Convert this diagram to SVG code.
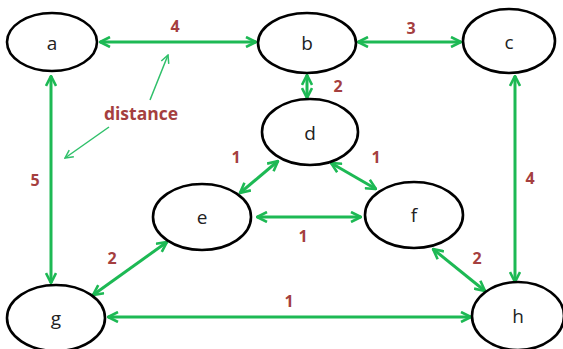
<svg xmlns="http://www.w3.org/2000/svg" width="563" height="349" viewBox="0 0 563 349">
  <style>
    .node ellipse { fill: #ffffff; stroke: #000000; stroke-width: 2.6; }
    .node text { font-family: "Open Sans", "Liberation Sans", sans-serif; font-size: 19px; fill: #222222; text-anchor: middle; dominant-baseline: central; }
    .edge { stroke: #1db954; stroke-width: 3; fill: none; marker-start: url(#tipStart); marker-end: url(#tipEnd); }
    .note { stroke: #2fc06a; stroke-width: 1.5; fill: none; marker-end: url(#tipThin); }
    .w { font-family: "Open Sans", "Liberation Sans", sans-serif; font-size: 16px; font-weight: bold; fill: #a53f3f; text-anchor: middle; }
  </style>
  <defs>
    <marker id="tipEnd" viewBox="0 0 12 12" refX="11" refY="6" markerWidth="12" markerHeight="12" markerUnits="userSpaceOnUse" orient="auto">
      <path d="M1,1 L11,6 L1,11" fill="none" stroke="#1db954" stroke-width="2.6"/>
    </marker>
    <marker id="tipStart" viewBox="0 0 12 12" refX="1" refY="6" markerWidth="12" markerHeight="12" markerUnits="userSpaceOnUse" orient="auto">
      <path d="M11,1 L1,6 L11,11" fill="none" stroke="#1db954" stroke-width="2.6"/>
    </marker>
    <marker id="tipThin" viewBox="0 0 10 10" refX="9" refY="5" markerWidth="10" markerHeight="10" markerUnits="userSpaceOnUse" orient="auto">
      <path d="M1,1 L9,5 L1,9" fill="none" stroke="#2fc06a" stroke-width="1.5"/>
    </marker>
  </defs>

  <rect width="563" height="349" fill="#ffffff"/>

  <!-- connectors -->
  <g id="edges">
    <line class="edge" x1="100" y1="42" x2="256" y2="42"/>
    <line class="edge" x1="358" y1="42" x2="461" y2="42"/>
    <line class="edge" x1="307" y1="75" x2="307" y2="98"/>
    <line class="edge" x1="51" y1="76" x2="51" y2="283"/>
    <line class="edge" x1="515" y1="76" x2="515" y2="282"/>
    <line class="edge" x1="278" y1="161" x2="240" y2="193"/>
    <line class="edge" x1="331" y1="163" x2="376" y2="189"/>
    <line class="edge" x1="257" y1="217" x2="361" y2="217"/>
    <line class="edge" x1="167" y1="242" x2="93" y2="295"/>
    <line class="edge" x1="433" y1="249" x2="485" y2="291"/>
    <line class="edge" x1="108" y1="317" x2="471" y2="317"/>
    <!-- pointers from the "distance" note -->
    <line class="note" x1="150" y1="100" x2="168" y2="55"/>
    <line class="note" x1="109" y1="127" x2="65" y2="158"/>
  </g>

  <!-- weights -->
  <g id="weights">
    <text class="w" x="175" y="32">4</text>
    <text class="w" x="411" y="34">3</text>
    <text class="w" x="338" y="92">2</text>
    <text class="w" x="35" y="186">5</text>
    <text class="w" x="530" y="184">4</text>
    <text class="w" x="236" y="163">1</text>
    <text class="w" x="376" y="163">1</text>
    <text class="w" x="303" y="242">1</text>
    <text class="w" x="112" y="264">2</text>
    <text class="w" x="477" y="264">2</text>
    <text class="w" x="289" y="307">1</text>
    <text class="w" x="141" y="120" style="font-size:17.5px">distance</text>
  </g>

  <!-- nodes -->
  <g id="node-a" class="node"><ellipse cx="52" cy="42" rx="45" ry="29"/><text x="52" y="43">a</text></g>
  <g id="node-b" class="node"><ellipse cx="307" cy="43" rx="49" ry="30"/><text x="307" y="43">b</text></g>
  <g id="node-c" class="node"><ellipse cx="509" cy="41" rx="46" ry="32"/><text x="509" y="42">c</text></g>
  <g id="node-d" class="node"><ellipse cx="310" cy="132" rx="48" ry="33"/><text x="310" y="133">d</text></g>
  <g id="node-e" class="node"><ellipse cx="202" cy="217" rx="49" ry="33"/><text x="202" y="217">e</text></g>
  <g id="node-f" class="node"><ellipse cx="414" cy="215" rx="49" ry="33"/><text x="414" y="215">f</text></g>
  <g id="node-g" class="node"><ellipse cx="56" cy="318" rx="49" ry="33"/><text x="56" y="318">g</text></g>
  <g id="node-h" class="node"><ellipse cx="518" cy="316" rx="46" ry="34"/><text x="518" y="316">h</text></g>
</svg>
